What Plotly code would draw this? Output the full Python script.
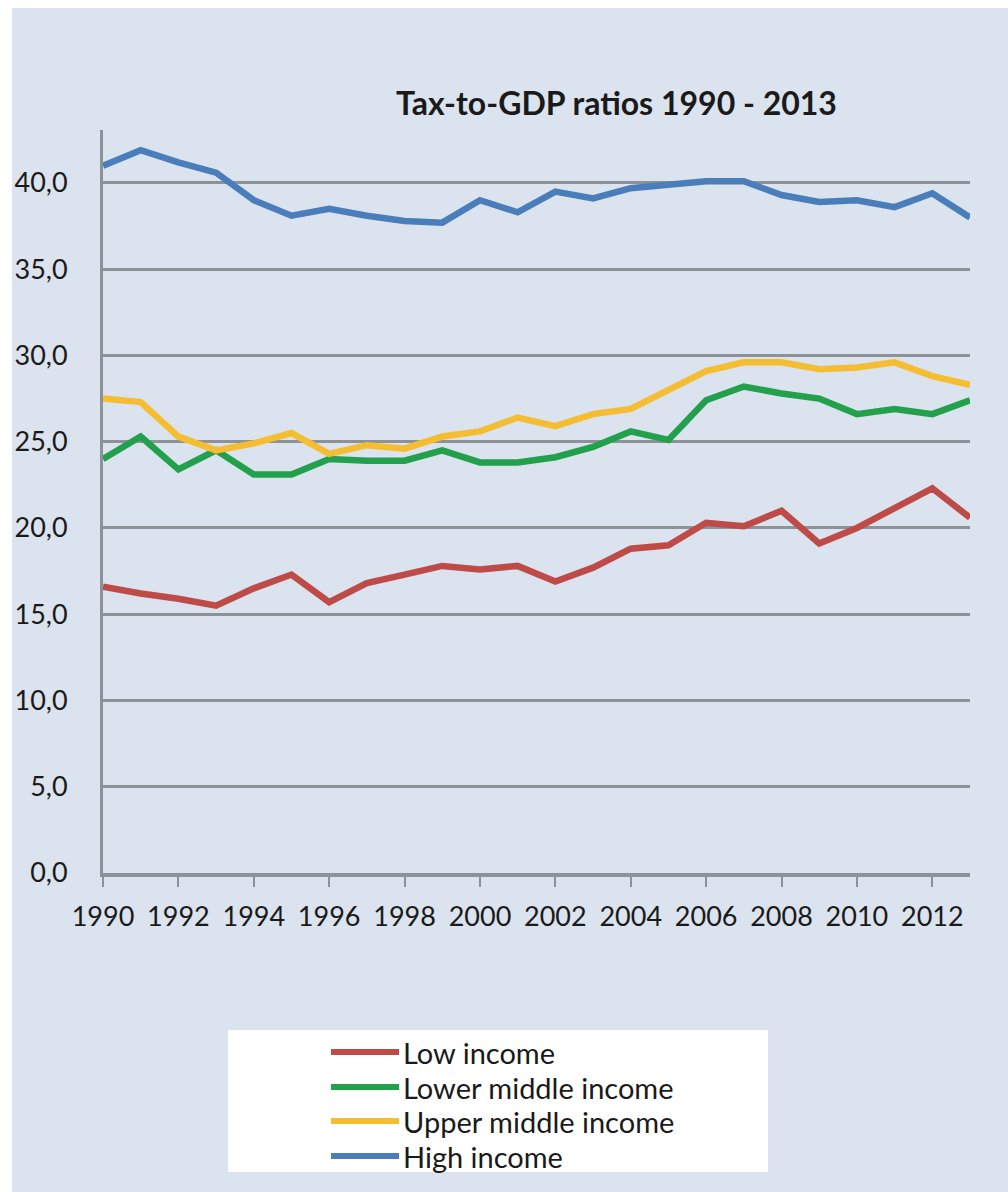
import plotly.graph_objects as go

# ---- data -------------------------------------------------------------
years = list(range(1990, 2014))

low_income = [16.6, 16.2, 15.9, 15.5, 16.5, 17.3, 15.7, 16.8, 17.3, 17.8, 17.6, 17.8,
              16.9, 17.7, 18.8, 19.0, 20.3, 20.1, 21.0, 19.1, 20.0, 21.1, 22.3, 20.6]
lower_middle_income = [24.0, 25.3, 23.4, 24.5, 23.1, 23.1, 24.0, 23.9, 23.9, 24.5, 23.8, 23.8,
                       24.1, 24.7, 25.6, 25.1, 27.4, 28.2, 27.8, 27.5, 26.6, 26.9, 26.6, 27.4]
upper_middle_income = [27.5, 27.3, 25.3, 24.5, 24.9, 25.5, 24.3, 24.8, 24.6, 25.3, 25.6, 26.4,
                       25.9, 26.6, 26.9, 28.0, 29.1, 29.6, 29.6, 29.2, 29.3, 29.6, 28.8, 28.3]
high_income = [41.0, 41.9, 41.2, 40.6, 39.0, 38.1, 38.5, 38.1, 37.8, 37.7, 39.0, 38.3,
               39.5, 39.1, 39.7, 39.9, 40.1, 40.1, 39.3, 38.9, 39.0, 38.6, 39.4, 38.0]

series_names = ["Low income", "Lower middle income", "Upper middle income", "High income"]
series_values = [low_income, lower_middle_income, upper_middle_income, high_income]
series_colors = ["#be4b48", "#22a04b", "#f5bd32", "#4a7ebb"]

x_tick_years = list(range(1990, 2013, 2))
y_tick_values = [0, 5, 10, 15, 20, 25, 30, 35, 40]

title_text = "Tax-to-GDP ratios 1990 - 2013"

# ---- layout geometry (pixels) -----------------------------------------
W, H = 1008, 1192
PL, PR, PT, PB = 103, 970, 130, 873   # plot-area edges
FONT = "Lato, 'Open Sans', 'Liberation Sans', sans-serif"
BG = "#dbe3ee"
GRID = "#8d9198"


def px_x(px):
    return (px - PL) / (PR - PL)


def px_y(py):
    return (PB - py) / (PB - PT)


fig = go.Figure()

for name, vals, color in zip(series_names, series_values, series_colors):
    fig.add_trace(go.Scatter(
        x=years, y=vals, mode="lines", name=name,
        line=dict(color=color, width=6.5),
        showlegend=False,
    ))

shapes = []
# white strips at the top and left of the page
shapes.append(dict(type="rect", xref="paper", yref="paper",
                   x0=px_x(-5), x1=px_x(12), y0=px_y(H + 300), y1=px_y(-5),
                   fillcolor="white", line_width=0, layer="below"))
shapes.append(dict(type="rect", xref="paper", yref="paper",
                   x0=px_x(-5), x1=px_x(W + 5), y0=px_y(8), y1=px_y(-5),
                   fillcolor="white", line_width=0, layer="below"))

# legend box
LX0, LX1, LY0, LY1 = 228, 768, 1030, 1172
shapes.append(dict(type="rect", xref="paper", yref="paper",
                   x0=px_x(LX0), x1=px_x(LX1), y0=px_y(LY1), y1=px_y(LY0),
                   fillcolor="white", line_width=0, layer="above"))

annotations = []
item_y = [1052, 1087, 1121, 1156]
for name, color, yy in zip(series_names, series_colors, item_y):
    shapes.append(dict(type="line", xref="paper", yref="paper",
                       x0=px_x(331), x1=px_x(399), y0=px_y(yy), y1=px_y(yy),
                       line=dict(color=color, width=6), layer="above"))
    annotations.append(dict(xref="paper", yref="paper", x=px_x(401), y=px_y(yy),
                            text=name, showarrow=False, xanchor="left", yanchor="middle",
                            font=dict(family=FONT, size=29, color="#1a1a1a")))

annotations.append(dict(xref="paper", yref="paper", x=px_x(616), y=px_y(102),
                        text="<b>" + title_text + "</b>", showarrow=False,
                        xanchor="center", yanchor="middle",
                        font=dict(family=FONT, size=32, color="#1a1a1a")))

fig.update_layout(
    width=W, height=H,
    margin=dict(l=PL, r=W - PR, t=PT, b=H - PB, pad=0),
    paper_bgcolor=BG, plot_bgcolor=BG,
    separators=", ",
    shapes=shapes, annotations=annotations,
    showlegend=False,
    font=dict(family=FONT, size=26, color="#1a1a1a"),
)

fig.update_xaxes(
    range=[1990, 2013], tickvals=x_tick_years,
    ticks="outside", ticklen=10, tickwidth=2, tickcolor=GRID,
    showgrid=False, zeroline=False,
    showline=True, linecolor=GRID, linewidth=4,
    tickfont=dict(family=FONT, size=27, color="#1a1a1a"),
    ticklabelstandoff=7,
)
fig.update_yaxes(
    range=[0, 43.07], tickvals=y_tick_values, tickformat=".1f",
    ticks="", showgrid=True, gridcolor=GRID, gridwidth=2.5,
    zeroline=False, showline=True, linecolor=GRID, linewidth=3,
    tickfont=dict(family=FONT, size=27, color="#1a1a1a"),
    ticklabelstandoff=27,
)

fig.write_html("out.html")
